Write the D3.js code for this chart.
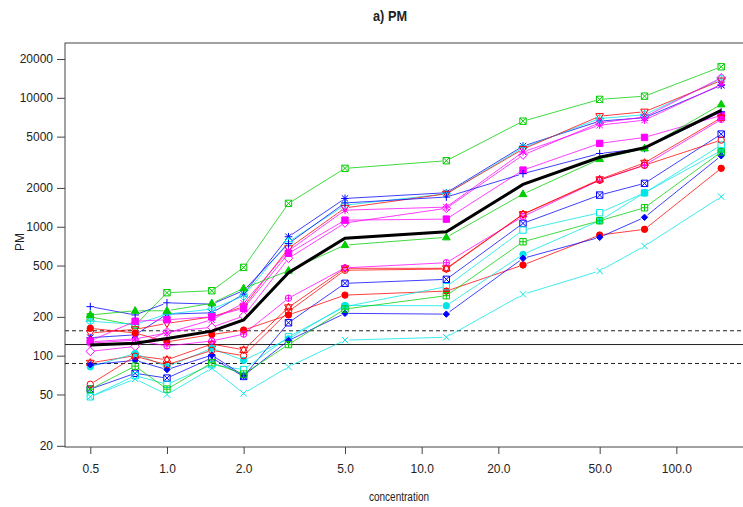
<!DOCTYPE html>
<html>
<head>
<meta charset="utf-8">
<script src="https://cdn.jsdelivr.net/npm/d3@7"></script>
<style>
  body { margin: 0; background: #fff; }
  text { font-family: "Liberation Sans", Arial, sans-serif; fill: #222; }
</style>
</head>
<body>
<div id="paper"></div>
<script>
// a) PM - log/log plot of PM against concentration, one line per sample

const conc = [0.5, 0.75, 1, 1.5, 2, 3, 5, 12.5, 25, 50, 75, 150];
const xTicks = [0.5, 1, 2, 5, 10, 20, 50, 100];
const yTicks = [20, 50, 100, 200, 500, 1000, 2000, 5000, 10000, 20000];

// reference band (solid = centre, dashed = limits)
const refLine = 122;
const refBand = [156, 87];

const grnSqX    = [200, 172, 308, 319, 484, 1518, 2836, 3250, 6590, 9720, 10300, 17400];
const bluStar   = [138, 145, 210, 215, 300, 836, 1657, 1835, 4220, 6600, 7000, 12500];
const cyaDiaP   = [185, 175, 210, 230, 290, 765, 1470, 1800, 4100, 6900, 7400, 14000];
const redTriDn  = [150, 160, 178, 200, 240, 680, 1400, 1800, 4000, 7200, 7800, 13600];
const magStar   = [128, 135, 150, 190, 255, 650, 1345, 1420, 3800, 6140, 6710, 12700];
const pinkDia   = [108, 118, 153, 166, 203, 569, 1070, 1390, 3600, 6400, 7100, 14300];
const magSq     = [130, 185, 190, 200, 233, 622, 1125, 1146, 2750, 4430, 4930, 7300];
const bluPlus   = [240, 207, 257, 251, 320, 740, 1530, 1700, 2580, 3700, 4050, 7800];
const grnTri    = [207, 223, 223, 255, 333, 456, 721, 828, 1792, 3350, 4050, 8900];
const redHex    = [88, 100, 93, 123, 111, 237, 476, 476, 1250, 2330, 3130, 7000];
const bluSqX    = [55, 73, 67, 96, 69, 180, 364, 391, 1062, 1760, 2170, 5230];
const redDot    = [163, 150, 128, 146, 158, 207, 295, 317, 505, 862, 955, 2840];
const magCirP   = [125, 132, 119, 130, 147, 279, 480, 526, 1200, 2300, 3000, 6800];
const cyaSq     = [48, 70, 60, 85, 78, 140, 240, 343, 943, 1284, 1830, 4300];
const cyaDot    = [82, 104, 82, 114, 92, 135, 245, 244, 611, 1113, 1834, 3900];
const bluDia    = [85, 92, 78, 101, 70, 131, 213, 210, 569, 828, 1183, 3550];
const grnSqP    = [55, 83, 55, 88, 72, 122, 230, 292, 765, 1113, 1404, 3800];
const cyaX      = [48, 66, 50, 80, 51, 82, 132, 139, 299, 454, 708, 1710];
const redCirc   = [60, 99, 85, 110, 100, 220, 460, 470, 1250, 2300, 3000, 4700];

const meanPM    = [121, 125, 136, 155, 189, 440, 813, 914, 2130, 3460, 4100, 8000];

let red = "#ff0000", green = "#00cd00", blue = "#0000ff", cyan = "#00e5e5", magenta = "#ff00ff";

// values + colour + R plotting symbol
const series = [
  { v: grnSqX,   col: green,   pch: 7 },
  { v: bluStar,  col: blue,    pch: 8 },
  { v: cyaDiaP,  col: cyan,    pch: 9 },
  { v: redTriDn, col: red,     pch: 6 },
  { v: magStar,  col: magenta, pch: 8 },
  { v: pinkDia,  col: magenta, pch: 5 },
  { v: magSq,    col: magenta, pch: 15 },
  { v: bluPlus,  col: blue,    pch: 3 },
  { v: grnTri,   col: green,   pch: 17 },
  { v: redHex,   col: red,     pch: 11 },
  { v: bluSqX,   col: blue,    pch: 7 },
  { v: redDot,   col: red,     pch: 16 },
  { v: magCirP,  col: magenta, pch: 10 },
  { v: cyaSq,    col: cyan,    pch: 0 },
  { v: cyaDot,   col: cyan,    pch: 16 },
  { v: bluDia,   col: blue,    pch: 18 },
  { v: grnSqP,   col: green,   pch: 12 },
  { v: cyaX,     col: cyan,    pch: 4 },
  { v: redCirc,  col: red,     pch: 1 },
];

const W = 743, H = 507;
const box = { left: 65, right: 747, top: 43, bottom: 447 };

const svg = d3.select("#paper").append("svg")
  .attr("width", W).attr("height", H);

const x = d3.scaleLog().domain([0.5, 150]).range([90.3, 721.2]);
const y = d3.scaleLog().domain([20, 20000]).range([445.8, 59]);

// frame
svg.append("rect")
  .attr("x", box.left).attr("y", box.top)
  .attr("width", box.right - box.left).attr("height", box.bottom - box.top)
  .attr("fill", "none").attr("stroke", "#444").attr("stroke-width", 1);

// axes
const xAxis = d3.axisBottom(x).tickValues(xTicks).tickFormat(d3.format(".1f")).tickSize(7).tickPadding(10);
const yAxis = d3.axisLeft(y).tickValues(yTicks).tickFormat(d3.format("d")).tickSize(8).tickPadding(4);

const gx = svg.append("g").attr("transform", `translate(0,${box.bottom})`).call(xAxis);
const gy = svg.append("g").attr("transform", `translate(${box.left},0)`).call(yAxis);
[gx, gy].forEach((g) => {
  g.select(".domain").remove();
  g.selectAll("line").attr("stroke", "#444");
  g.selectAll("text").style("font-size", "12px").attr("fill", "#333");
});

svg.append("text").attr("x", 399).attr("y", 501).attr("text-anchor", "middle")
  .attr("textLength", 60).attr("lengthAdjust", "spacingAndGlyphs")
  .style("font-size", "12px").text("concentration");
svg.append("text").attr("transform", "translate(24,242) rotate(-90)")
  .attr("text-anchor", "middle").style("font-size", "12px").text("PM");
svg.append("text").attr("x", 390).attr("y", 21).attr("text-anchor", "middle")
  .attr("textLength", 34).attr("lengthAdjust", "spacingAndGlyphs")
  .style("font-size", "14px").style("font-weight", "bold").text("a) PM");

const plot = svg.append("g");

// reference lines
plot.append("line").attr("x1", box.left).attr("x2", box.right)
  .attr("y1", y(refLine)).attr("y2", y(refLine))
  .attr("stroke", "#222").attr("stroke-width", 1);
plot.selectAll(".band").data(refBand).join("line").attr("class", "band")
  .attr("x1", box.left).attr("x2", box.right)
  .attr("y1", (d) => y(d)).attr("y2", (d) => y(d))
  .attr("stroke", "#222").attr("stroke-width", 1).attr("stroke-dasharray", "4,3");

// R type="b": segments stop short of the symbols
const gap = 4;
function segments(vals) {
  let out = [];
  for (let i = 0; i < vals.length - 1; i++) {
    let x0 = x(conc[i]), y0 = y(vals[i]), x1 = x(conc[i + 1]), y1 = y(vals[i + 1]);
    let dx = x1 - x0, dy = y1 - y0, len = Math.hypot(dx, dy);
    if (len <= 2 * gap) continue;
    let ux = dx / len, uy = dy / len;
    out.push([x0 + ux * gap, y0 + uy * gap, x1 - ux * gap, y1 - uy * gap]);
  }
  return out;
}

// plotting symbols, s = half size
const s = 3.2;
function symbol(pch) {
  const sq = `M${-s},${-s}H${s}V${s}H${-s}Z`;
  const plus = `M${-s * 1.2},0H${s * 1.2}M0,${-s * 1.2}V${s * 1.2}`;
  const cross = `M${-s},${-s}L${s},${s}M${-s},${s}L${s},${-s}`;
  const dia = `M0,${-s * 1.35}L${s * 1.35},0L0,${s * 1.35}L${-s * 1.35},0Z`;
  const circ = `M${s},0A${s},${s} 0 1,1 ${-s},0A${s},${s} 0 1,1 ${s},0Z`;
  const tri = `M0,${-s * 1.3}L${s * 1.2},${s * 0.8}L${-s * 1.2},${s * 0.8}Z`;
  const triDn = `M0,${s * 1.3}L${s * 1.2},${-s * 0.8}L${-s * 1.2},${-s * 0.8}Z`;
  switch (pch) {
    case 0: return { d: sq, fill: false };
    case 1: return { d: circ, fill: false };
    case 2: return { d: tri, fill: false };
    case 3: return { d: plus, fill: false };
    case 4: return { d: cross, fill: false };
    case 5: return { d: dia, fill: false };
    case 6: return { d: triDn, fill: false };
    case 7: return { d: sq + cross, fill: false };
    case 8: return { d: plus + cross, fill: false };
    case 9: return { d: dia + `M${-s * 1.35},0H${s * 1.35}M0,${-s * 1.35}V${s * 1.35}`, fill: false };
    case 10: return { d: circ + `M${-s},0H${s}M0,${-s}V${s}`, fill: false };
    case 11: return { d: tri + triDn, fill: false };
    case 12: return { d: sq + `M${-s},0H${s}M0,${-s}V${s}`, fill: false };
    case 15: return { d: sq, fill: true };
    case 16: return { d: circ, fill: true };
    case 17: return { d: tri, fill: true };
    case 18: return { d: `M0,${-s}L${s},0L0,${s}L${-s},0Z`, fill: true };
  }
}

series.forEach((ser) => {
  const g = plot.append("g");
  g.selectAll("line").data(segments(ser.v)).join("line")
    .attr("x1", (d) => d[0]).attr("y1", (d) => d[1])
    .attr("x2", (d) => d[2]).attr("y2", (d) => d[3])
    .attr("stroke", ser.col).attr("stroke-width", 1).attr("stroke-opacity", 0.75);
  const sym = symbol(ser.pch);
  g.selectAll("path").data(ser.v).join("path")
    .attr("transform", (d, i) => `translate(${x(conc[i])},${y(d)})`)
    .attr("d", sym.d)
    .attr("fill", sym.fill ? ser.col : "none")
    .attr("stroke", ser.col).attr("stroke-width", 1);
});

// mean line
plot.append("path")
  .datum(meanPM)
  .attr("d", d3.line().x((d, i) => x(conc[i])).y((d) => y(d)))
  .attr("fill", "none").attr("stroke", "#000").attr("stroke-width", 3);
</script>
</body>
</html>
